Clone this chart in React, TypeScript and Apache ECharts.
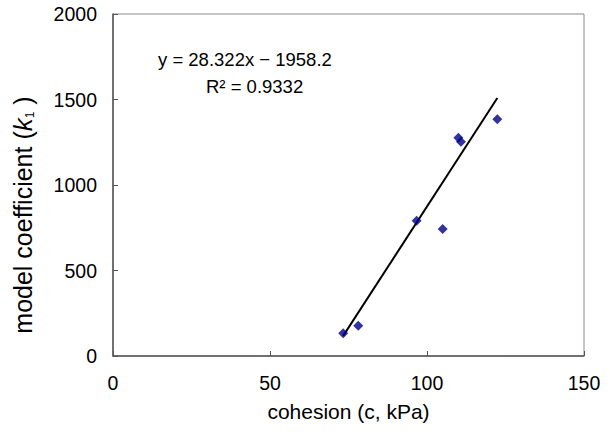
import React, { useEffect, useRef } from "react";
import * as echarts from "echarts";

const cohesion = [73.3, 78.1, 96.7, 105.0, 110.0, 110.8, 122.4];
const coefficient = [133, 177, 791, 743, 1277, 1253, 1384];
const slope = 28.322;
const intercept = -1958.2;
const rSquared = "0.9332";
const trendRange = [73.3, 122.4];

export default function App() {
  const ref = useRef<HTMLDivElement>(null);
  useEffect(() => {
    document.body.style.margin = "0";
    const chart = echarts.init(ref.current!, null, { renderer: "svg" });
    const font = "'Liberation Sans', Arial, sans-serif";
    const points = cohesion.map((x, i) => [x, coefficient[i]]);
    const trend = trendRange.map((x) => [x, slope * x + intercept]);
    chart.setOption({
      animation: false,
      backgroundColor: "#fff",
      textStyle: { fontFamily: font },
      grid: {
        left: 113,
        right: 26,
        top: 14,
        bottom: 85,
        show: true,
        borderColor: "#8a8a8a",
        borderWidth: 1,
      },
      xAxis: {
        type: "value",
        min: 0,
        max: 150,
        interval: 50,
        name: "cohesion (c, kPa)",
        nameLocation: "middle",
        nameGap: 45,
        nameTextStyle: { fontSize: 21, color: "#000", fontFamily: font },
        axisLine: { lineStyle: { color: "#555", width: 1.5 } },
        axisTick: { inside: true, length: 5, lineStyle: { color: "#555" } },
        axisLabel: { fontSize: 19.5, color: "#000", margin: 17, fontFamily: font, formatter: (v: number) => String(v) },
        splitLine: { show: false },
      },
      yAxis: {
        type: "value",
        min: 0,
        max: 2000,
        interval: 500,
        name: "{a|model coefficient (}{i|k}{s|1}{a| )}",
        nameLocation: "middle",
        nameGap: 77,
        nameTextStyle: {
          fontSize: 25,
          color: "#000",
          fontFamily: font,
          padding: [0, 60, 0, 0],
          rich: {
            a: { fontSize: 25, color: "#000", fontFamily: font },
            i: { fontSize: 26, color: "#000", fontStyle: "italic", fontFamily: font },
            s: { fontSize: 12, color: "#000", fontFamily: font, verticalAlign: "bottom" },
          },
        },
        axisLine: { show: true, lineStyle: { color: "#555", width: 1.5 } },
        axisTick: { show: true, inside: true, length: 5, lineStyle: { color: "#555" } },
        axisLabel: { fontSize: 19.5, color: "#000", margin: 16, fontFamily: font, formatter: (v: number) => String(v) },
        splitLine: { show: false },
      },
      series: [
        {
          type: "line",
          data: trend,
          symbol: "none",
          lineStyle: { color: "#000", width: 2 },
          z: 2,
        },
        {
          type: "scatter",
          data: points,
          symbol: "diamond",
          symbolSize: 10,
          itemStyle: { color: "#000088" },
          z: 3,
        },
      ],
      graphic: [
        {
          type: "text",
          left: 158,
          top: 50,
          style: {
            text: "y = 28.322x − 1958.2",
            fontSize: 18.5,
            fill: "#000",
            fontFamily: font,
          },
        },
        {
          type: "text",
          left: 206,
          top: 77,
          style: {
            text: "R² = " + rSquared,
            fontSize: 18.5,
            fill: "#000",
            fontFamily: font,
          },
        },
      ],
    });
    return () => chart.dispose();
  }, []);
  return <div ref={ref} style={{ width: 610, height: 441 }} />;
}
